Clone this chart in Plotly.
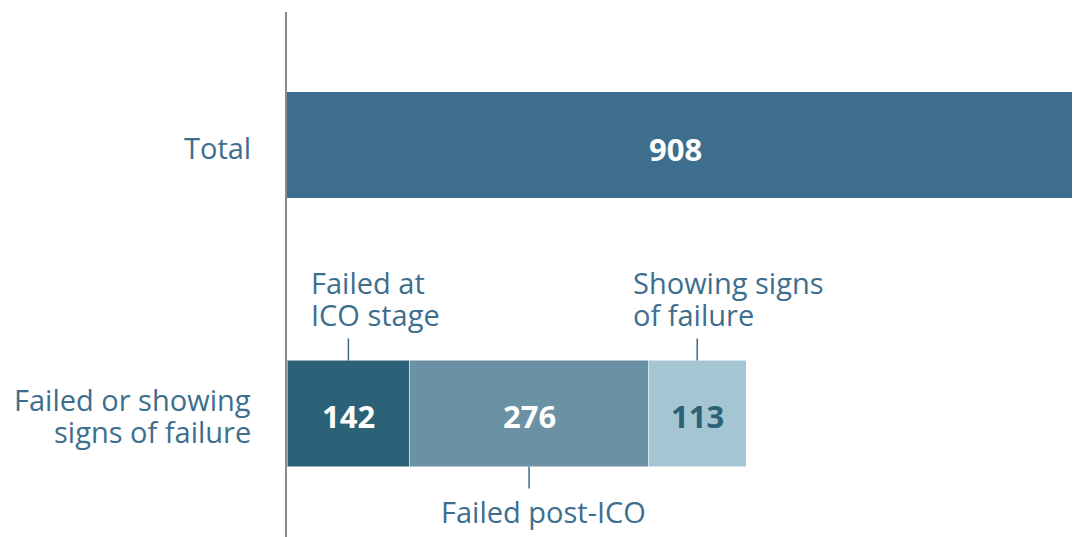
import plotly.graph_objects as go

categories = ["Failed or showing<br>signs of failure", "Total"]
total_value = [908]
segment_names = ["Failed at<br>ICO stage", "Failed post-ICO", "Showing signs<br>of failure"]
segment_values = [142, 276, 113]
segment_colors = ["#2b6277", "#6a91a4", "#a4c6d3"]
segment_text_colors = ["white", "white", "#2b6277"]
total_color = "#3d6e8e"
label_color = "#3d6e8e"
FONT = "'Open Sans', 'Noto Sans', sans-serif"
LABEL_SIZE = 29
NUM_SIZE = 31
LINE_GAP = 32  # px between lines of multi-line labels

fig = go.Figure()
fig.add_trace(go.Bar(
    y=[categories[1]], x=total_value, orientation="h",
    marker=dict(color=total_color, line=dict(width=0)),
    width=0.395, showlegend=False, hoverinfo="skip",
))
for name, val, col in zip(segment_names, segment_values, segment_colors):
    fig.add_trace(go.Bar(
        y=[categories[0]], x=[val], orientation="h", name=name,
        marker=dict(color=col, line=dict(width=1, color="rgba(255,255,255,0.5)")),
        width=0.395, showlegend=False, hoverinfo="skip",
    ))

annotations = []
shapes = []

# value labels inside bars
annotations.append(dict(x=total_value[0] / 2, y=categories[1], xref="x", yref="y",
                        text=f"<b>{total_value[0]}</b>", showarrow=False, xshift=-4, yshift=-4,
                        font=dict(family=FONT, size=NUM_SIZE, color="white")))
starts = [sum(segment_values[:i]) for i in range(len(segment_values))]
centres = [s + v / 2 for s, v in zip(starts, segment_values)]
for c, v, tc in zip(centres, segment_values, segment_text_colors):
    annotations.append(dict(x=c, y=categories[0], xref="x", yref="y",
                            text=f"<b>{v}</b>", showarrow=False, yshift=-3,
                            font=dict(family=FONT, size=NUM_SIZE, color=tc)))


def multiline(text, x, y, xref, yref, xanchor, xshift, first_yshift):
    for k, line in enumerate(text.split("<br>")):
        annotations.append(dict(
            x=x, y=y, xref=xref, yref=yref, text=line, showarrow=False,
            xanchor=xanchor, yanchor="middle", xshift=xshift,
            yshift=first_yshift - k * LINE_GAP,
            font=dict(family=FONT, size=LABEL_SIZE, color=label_color)))


# category labels (left of axis)
cat_shift = {categories[1]: -3, categories[0]: 14}
for cat in categories:
    multiline(cat, 0, cat, "paper", "y", "right", -34, cat_shift[cat])

# callouts
bar_half = 0.395 / 2
tick_len = 0.082
callout = {
    0: dict(side="above", xanchor="left", xshift=-39),
    1: dict(side="below", xanchor="center", xshift=14),
    2: dict(side="above", xanchor="left", xshift=-66),
}
for i, c in enumerate(centres):
    cfg = callout[i]
    if cfg["side"] == "above":
        y0, y1 = bar_half, bar_half + tick_len
        first = 131
    else:
        y0, y1 = -bar_half, -bar_half - tick_len
        first = -98
    shapes.append(dict(type="line", xref="x", yref="y", x0=c, x1=c, y0=y0, y1=y1,
                       line=dict(color=label_color, width=1.5)))
    multiline(segment_names[i], c, 0, "x", "y", cfg["xanchor"], cfg["xshift"], first)

fig.update_layout(
    barmode="stack",
    width=1078, height=537,
    margin=dict(l=287, r=6, t=12, b=0),
    paper_bgcolor="white", plot_bgcolor="white",
    shapes=shapes, annotations=annotations,
    xaxis=dict(range=[0, 908], visible=False, fixedrange=True),
    yaxis=dict(type="category", categoryorder="array", categoryarray=categories,
               range=[-0.46, 1.495], showline=True, linecolor="#8a8a8a", linewidth=2,
               showgrid=False, zeroline=False, ticks="", showticklabels=False,
               fixedrange=True),
    font=dict(family=FONT),
)
fig.write_html("out.html", config={"displayModeBar": False},
               post_script="document.body.style.margin='0';document.body.style.overflow='hidden';")
